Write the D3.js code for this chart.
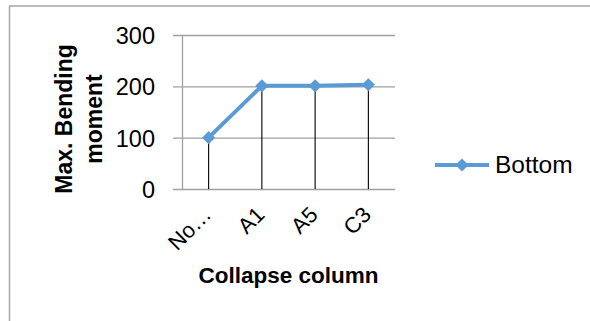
<!DOCTYPE html>
<html><head><meta charset="utf-8">
<script src="https://cdn.jsdelivr.net/npm/d3@7"></script>
<style>html,body{margin:0;padding:0;background:#fff;}svg{display:block;}</style>
</head><body>
<script>
const categories = ["No…", "A1", "A5", "C3"];
const seriesName = "Bottom";
const values = [100, 201, 201, 203];
const yTicks = [0, 100, 200, 300];
const yTitleLines = ["Max. Bending", "moment"];
const xTitle = "Collapse column";

const W = 590, H = 321;
const FONT = "'Liberation Sans', Arial, sans-serif";
const svg = d3.select("body").append("svg").attr("width", W).attr("height", H);

svg.append("rect").attr("x", 9.5).attr("y", 6).attr("width", W + 20).attr("height", H + 20)
  .attr("fill", "#fff").attr("stroke", "#a6a6a6").attr("stroke-width", 1.5);

const plot = {left: 182, right: 395, top: 35, bottom: 189};
const x = d3.scaleBand().domain(categories).range([plot.left, plot.right]);
const y = d3.scaleLinear().domain([0, 300]).range([plot.bottom, plot.top]);

// gridlines + y ticks
const yAxis = d3.axisLeft(y).tickValues(yTicks).tickSize(-(plot.right - plot.left)).tickSizeOuter(0).tickPadding(27);
const gy = svg.append("g").attr("transform", `translate(${plot.left},0)`).call(yAxis);
gy.select(".domain").attr("stroke", "#a0a0a0").attr("stroke-width", 1.3);
gy.selectAll(".tick line").attr("stroke", "#a0a0a0").attr("stroke-width", 1.3).attr("x1", -9);
gy.selectAll(".tick text").attr("font-family", FONT).attr("font-size", 23.5).attr("fill", "#000").attr("dy", "0.36em");

// x axis
const xAxis = d3.axisBottom(x).tickSize(0).tickSizeOuter(0);
const gx = svg.append("g").attr("transform", `translate(0,${plot.bottom})`).call(xAxis);
gx.select(".domain").remove();
gx.selectAll(".tick text").attr("font-family", FONT).attr("font-size", 22).attr("fill", "#000")
  .attr("text-anchor", "end").attr("dy", 0).attr("y", 0)
  .attr("transform", "translate(4,27) rotate(-45)");

// drop lines
svg.append("g").selectAll("line").data(values).join("line")
  .attr("x1", (d, i) => x(categories[i]) + x.bandwidth() / 2)
  .attr("x2", (d, i) => x(categories[i]) + x.bandwidth() / 2)
  .attr("y1", d => y(d)).attr("y2", y(0))
  .attr("stroke", "#000").attr("stroke-width", 1.1);

// series line
const line = d3.line().x((d, i) => x(categories[i]) + x.bandwidth() / 2).y(d => y(d));
svg.append("path").datum(values).attr("d", line).attr("fill", "none")
  .attr("stroke", "#5B9BD5").attr("stroke-width", 4).attr("stroke-linejoin", "round");

const diamond = d3.symbol().type(d3.symbolDiamond2).size(110);
svg.append("g").selectAll("path").data(values).join("path")
  .attr("d", diamond)
  .attr("transform", (d, i) => `translate(${x(categories[i]) + x.bandwidth() / 2},${y(d)})`)
  .attr("fill", "#5B9BD5");

// y title
const yt = svg.append("text").attr("transform", "translate(0,119) rotate(-90)")
  .attr("font-family", FONT).attr("font-size", 23).attr("font-weight", "bold").attr("text-anchor", "middle");
yTitleLines.forEach((t, i) => yt.append("tspan").attr("x", 0).attr("y", 72 + i * 30).text(t));

// x title
svg.append("text").attr("x", (plot.left + plot.right) / 2).attr("y", 283)
  .attr("font-family", FONT).attr("font-size", 22.5).attr("font-weight", "bold")
  .attr("text-anchor", "middle").text(xTitle);

// legend
const lg = svg.append("g");
lg.append("line").attr("x1", 435).attr("x2", 489).attr("y1", 165).attr("y2", 165)
  .attr("stroke", "#5B9BD5").attr("stroke-width", 4);
lg.append("path").attr("d", diamond).attr("transform", "translate(462,165)").attr("fill", "#5B9BD5");
lg.append("text").attr("x", 495).attr("y", 173).attr("font-family", FONT).attr("font-size", 24.5)
  .attr("fill", "#000").text(seriesName);
</script>
</body></html>
